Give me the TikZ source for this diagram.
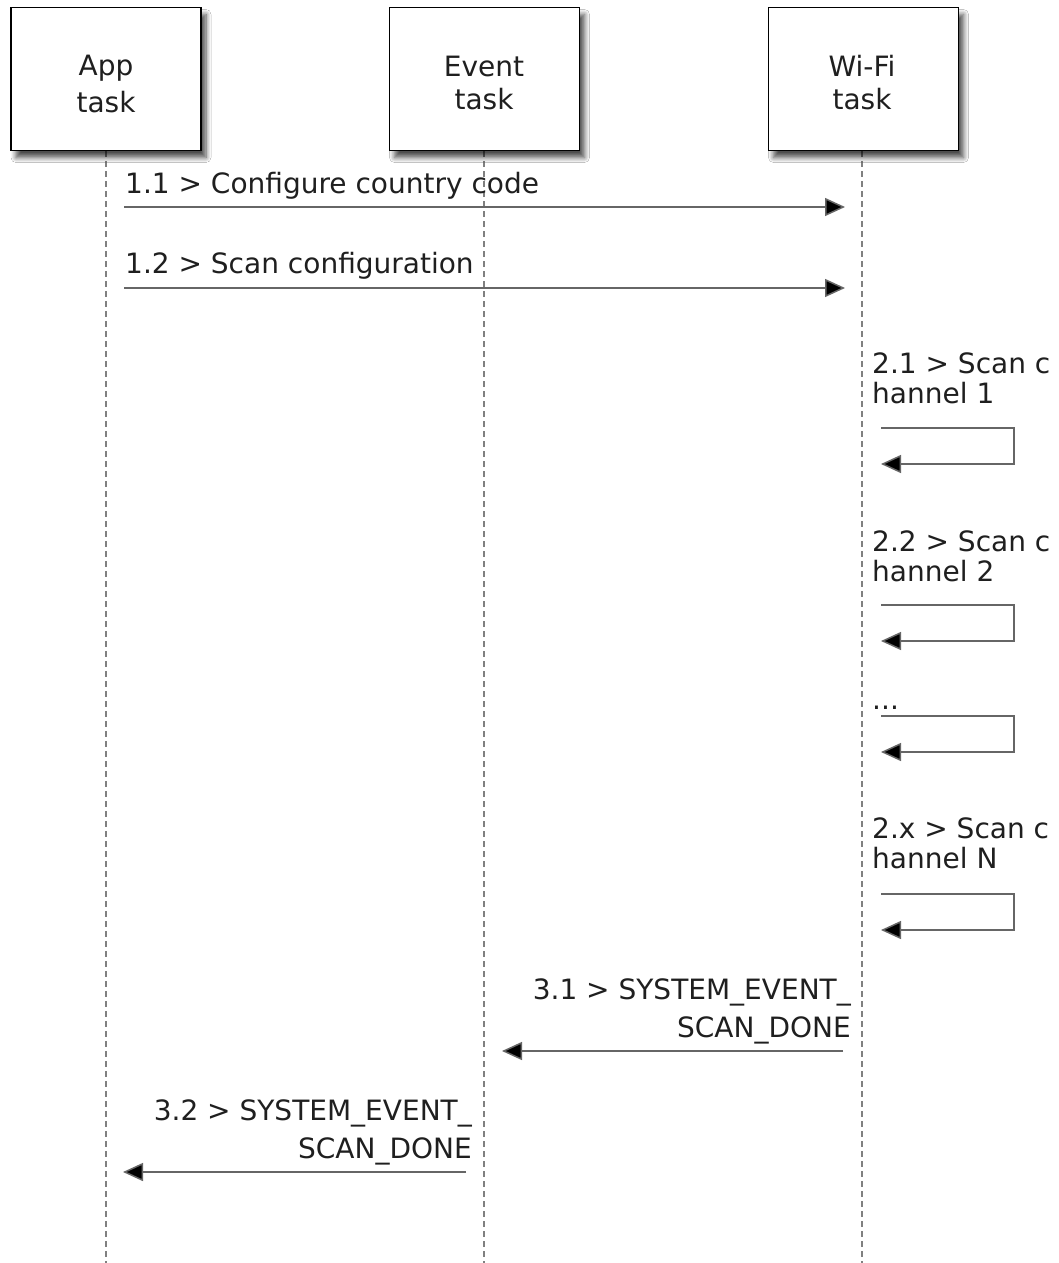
\documentclass[tikz,border=0pt]{standalone}
\usepackage{fontspec}
\setmainfont{DejaVu Sans}
\usetikzlibrary{arrows.meta,shadows.blur}
\begin{document}
\begin{tikzpicture}[x=1pt,y=-1pt,
  actor/.style={draw=black, line width=1.6pt, fill=white, minimum width=190pt, minimum height=143pt, inner sep=0pt,
    blur shadow={shadow xshift=5pt, shadow yshift=-7pt, shadow blur radius=5pt, shadow blur steps=8, shadow opacity=70}},
  lbl/.style={inner sep=0pt, font=\fontsize{28}{30}\selectfont, text=black!88},
  life/.style={draw=black!50, line width=1.3pt, dash pattern=on 6pt off 4pt},
  msg/.style={draw=black!60, line width=1.5pt, -{Triangle[length=20pt,width=18pt,fill=black]}},
]
\useasboundingbox (0,0) rectangle (1059,1263);
\fill[white] (0,0) rectangle (1059,1263);

% lifelines (drawn first)
\coordinate (appTop) at (106,151);
\coordinate (evtTop) at (484,151);
\coordinate (wifTop) at (862,151);
\coordinate (appBot) at (106,1263);
\coordinate (evtBot) at (484,1263);
\coordinate (wifBot) at (862,1263);
\draw[life] (appTop) -- (appBot);
\draw[life] (evtTop) -- (evtBot);
\draw[life] (wifTop) -- (wifBot);

% actor boxes
\node[actor] (app) at (106,79) {};
\node[actor] (evt) at (484.5,79) {};
\node[actor] (wif) at (863.5,79) {};
\node[lbl, anchor=base] (appL1) at (106,75) {App};
\node[lbl, anchor=base] (appL2) at (106,112) {task};
\node[lbl, anchor=base] (evtL1) at (484,76) {Event};
\node[lbl, anchor=base] (evtL2) at (484,109) {task};
\node[lbl, anchor=base] (wifL1) at (862,76) {Wi-Fi};
\node[lbl, anchor=base] (wifL2) at (862,109) {task};

% 1.1
\node[lbl, anchor=base west] (m11) at (125,193) {1.1 > Configure country code};
\coordinate (m11s) at (124,207);
\coordinate (m11e) at (845,207);
\draw[msg] (m11s) -- (m11e);

% 1.2
\node[lbl, anchor=base west] (m12) at (125,273) {1.2 > Scan configuration};
\coordinate (m12s) at (124,288);
\coordinate (m12e) at (845,288);
\draw[msg] (m12s) -- (m12e);

% 2.1
\node[lbl, anchor=base west] (m21a) at (872,373) {2.1 > Scan c};
\node[lbl, anchor=base west] (m21b) at (872,403) {hannel 1};
\coordinate (l1a) at (881,428);
\coordinate (l1b) at (1014,428);
\coordinate (l1c) at (1014,464);
\coordinate (l1d) at (881,464);
\draw[msg] (l1a) -- (l1b) -- (l1c) -- (l1d);

% 2.2
\node[lbl, anchor=base west] (m22a) at (872,551) {2.2 > Scan c};
\node[lbl, anchor=base west] (m22b) at (872,581) {hannel 2};
\coordinate (l2a) at (881,605);
\coordinate (l2b) at (1014,605);
\coordinate (l2c) at (1014,641);
\coordinate (l2d) at (881,641);
\draw[msg] (l2a) -- (l2b) -- (l2c) -- (l2d);

% ...
\node[lbl, anchor=base west] (mdots) at (872,709) {...};
\coordinate (l3a) at (881,716);
\coordinate (l3b) at (1014,716);
\coordinate (l3c) at (1014,752);
\coordinate (l3d) at (881,752);
\draw[msg] (l3a) -- (l3b) -- (l3c) -- (l3d);

% 2.x
\node[lbl, anchor=base west] (m2xa) at (872,838) {2.x > Scan c};
\node[lbl, anchor=base west] (m2xb) at (872,868) {hannel N};
\coordinate (l4a) at (881,894);
\coordinate (l4b) at (1014,894);
\coordinate (l4c) at (1014,930);
\coordinate (l4d) at (881,930);
\draw[msg] (l4a) -- (l4b) -- (l4c) -- (l4d);

% 3.1
\node[lbl, anchor=base east] (m31a) at (851,999) {3.1 > SYSTEM\_EVENT\_};
\node[lbl, anchor=base east] (m31b) at (851,1037) {SCAN\_DONE};
\coordinate (m31s) at (843,1051);
\coordinate (m31e) at (502,1051);
\draw[msg] (m31s) -- (m31e);

% 3.2
\node[lbl, anchor=base east] (m32a) at (472,1120) {3.2 > SYSTEM\_EVENT\_};
\node[lbl, anchor=base east] (m32b) at (472,1158) {SCAN\_DONE};
\coordinate (m32s) at (466,1172);
\coordinate (m32e) at (123,1172);
\draw[msg] (m32s) -- (m32e);
\end{tikzpicture}
\end{document}
